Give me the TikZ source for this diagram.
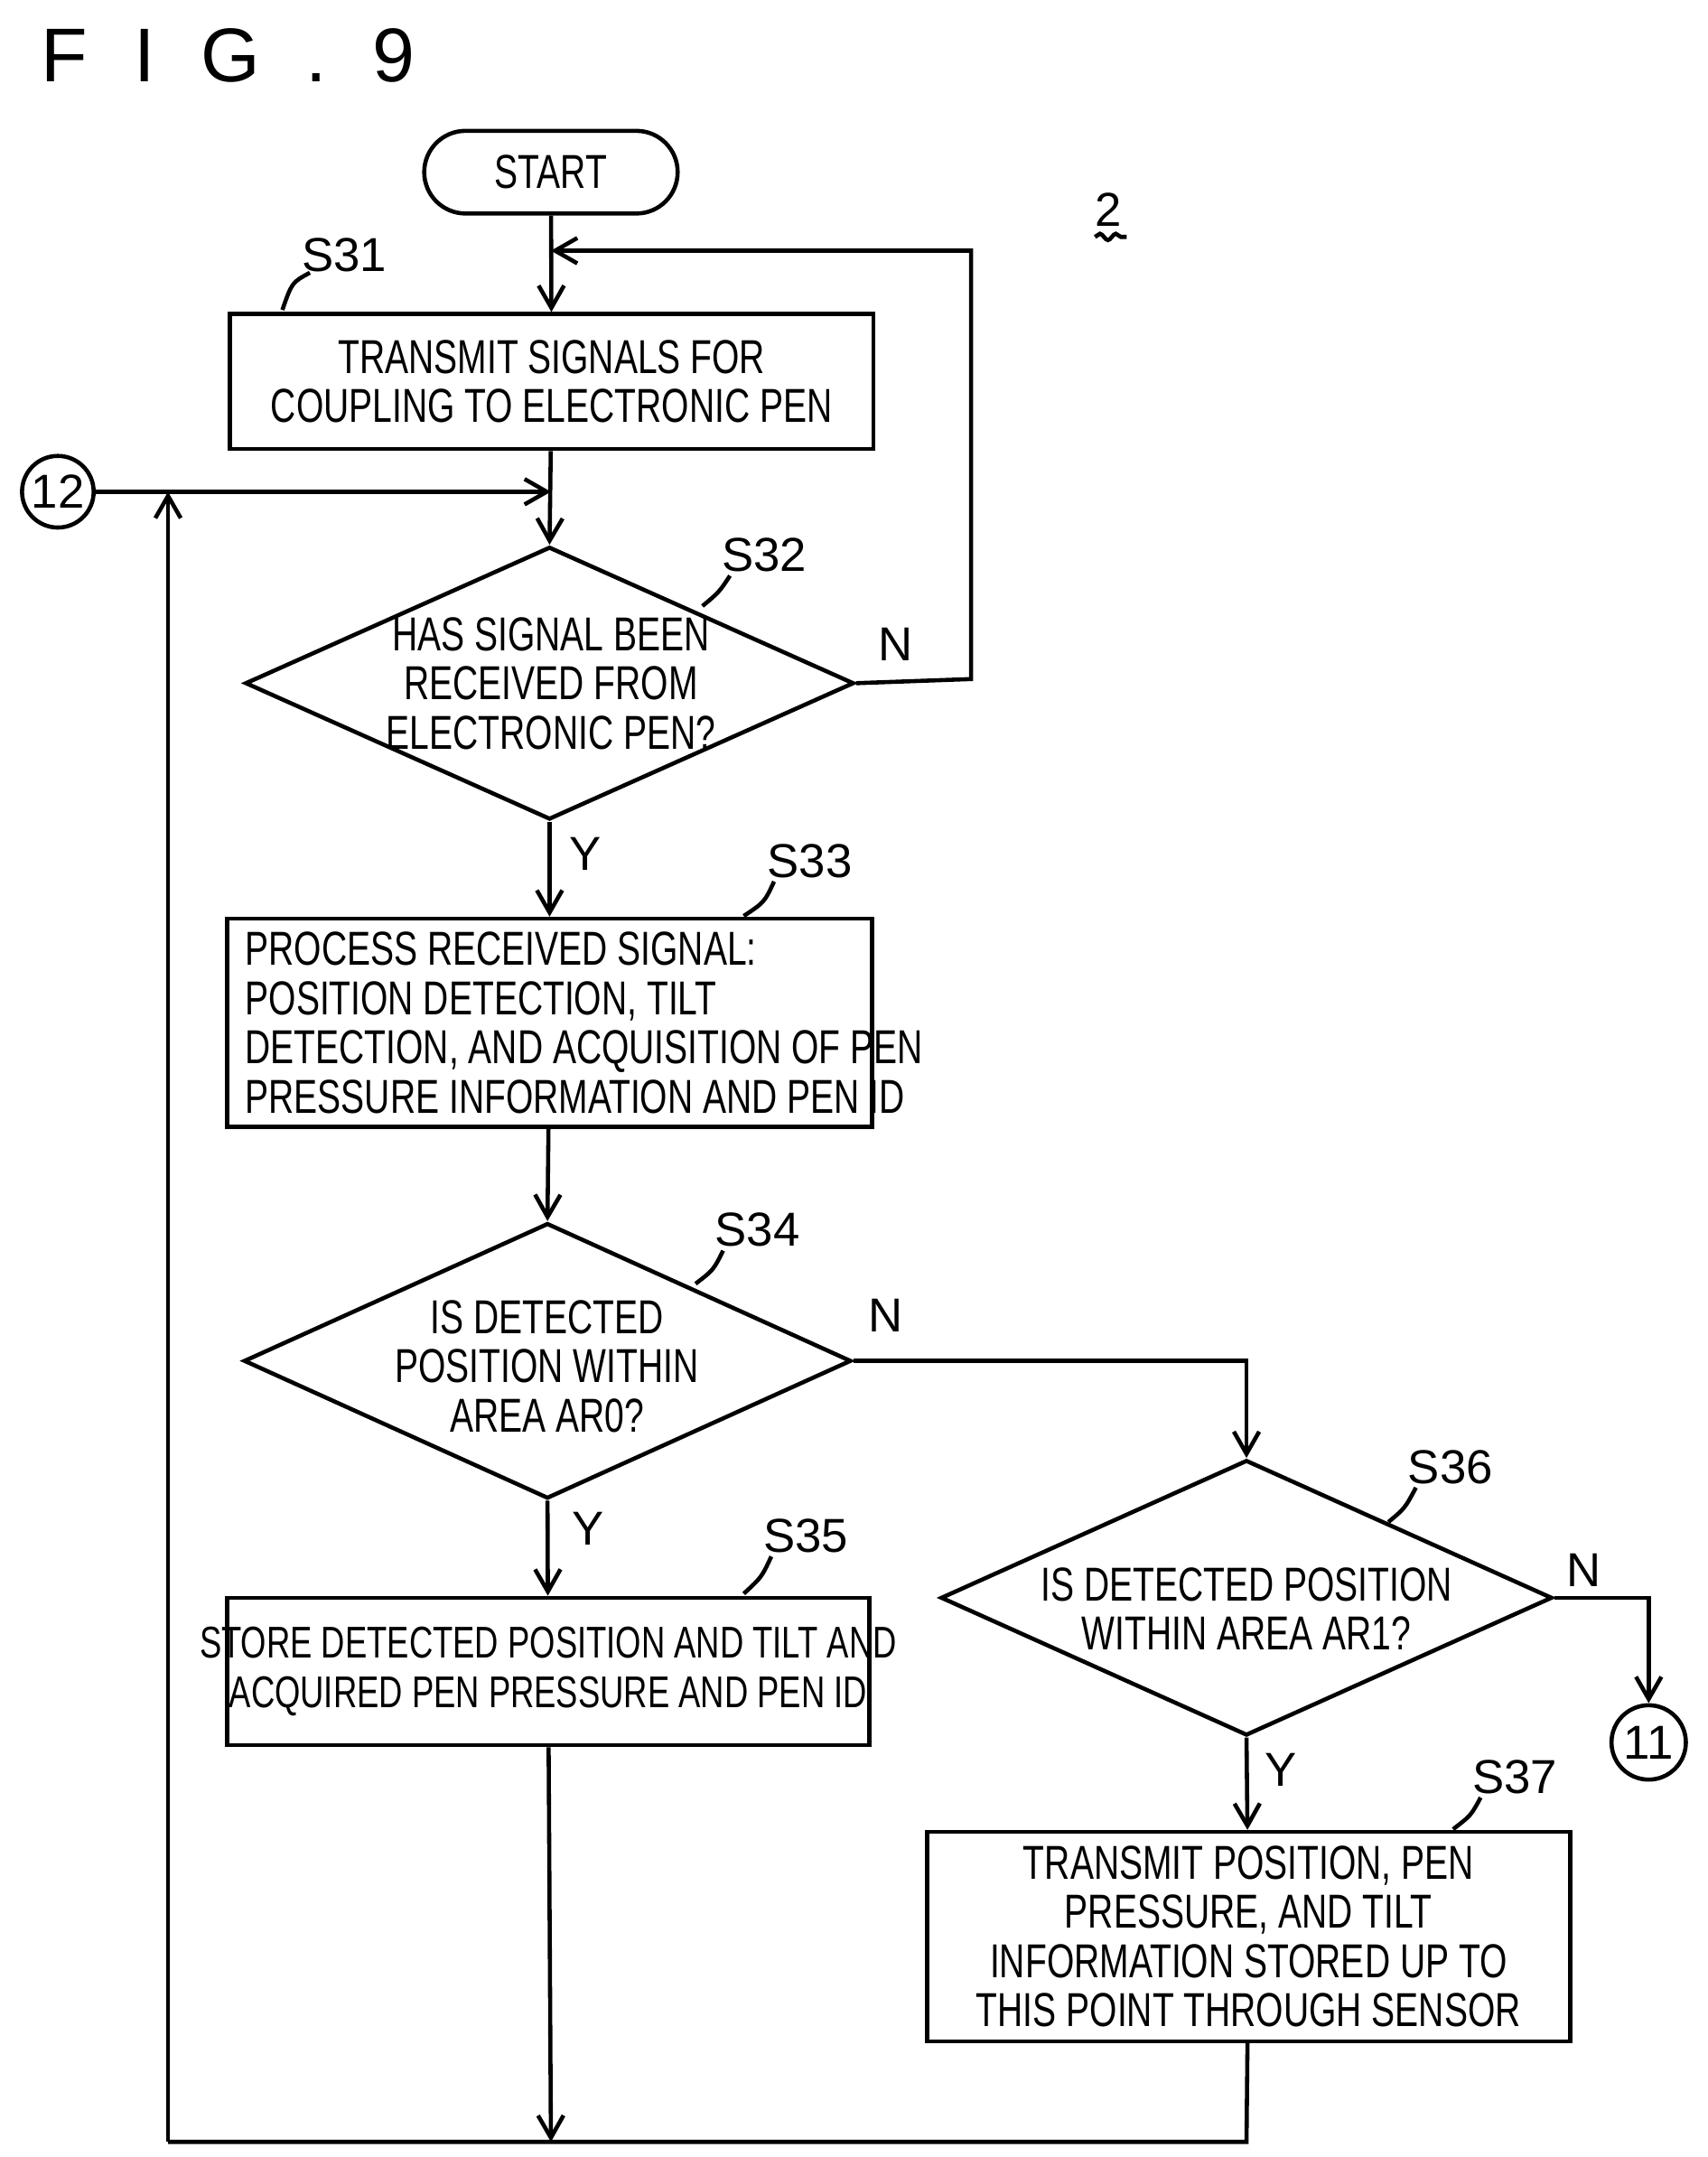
\documentclass[tikz,border=0pt]{standalone}
\usepackage{fontspec}
\setmainfont[FakeStretch=0.74]{Liberation Sans}
\newfontfamily\lab{Liberation Sans}
\usetikzlibrary{shapes.geometric,arrows.meta,decorations.pathmorphing}
\begin{document}
\begin{tikzpicture}[x=0.01525cm,y=-0.01525cm,
  txt/.style={font=\fontsize{15}{15.5}\selectfont,align=center},
  box/.style={draw,line width=1.3pt,inner sep=0pt},
  dia/.style={draw,line width=1.3pt,diamond,inner sep=0pt},
  ln/.style={line width=1.3pt},
  arr/.style={ln,-{Straight Barb[length=7pt,width=8pt]}},
  stp/.style={font=\lab\fontsize{15}{15}\selectfont},
  yn/.style={font=\lab\fontsize{15}{15}\selectfont}]
\useasboundingbox (0,0) rectangle (1240,1566);
\node[font=\lab\fontsize{24}{24}\selectfont,anchor=west] (title) at (22,40) {F\hspace{0.6em}I\hspace{0.6em}G\hspace{0.6em}.\hspace{0.6em}9};
\node[draw,line width=1.3pt,rounded corners=13pt,minimum width=184*0.01525cm,minimum height=60*0.01525cm,txt] (start) at (400,125) {START};
\node[stp] (two) at (805,152) {2};
\draw[ln,decorate,decoration={snake,amplitude=1pt,segment length=5pt}] (795,172)--(818,172);
\node[box,txt,minimum width=467*0.01525cm,minimum height=98*0.01525cm] (s31) at (400.5,277) {TRANSMIT SIGNALS FOR\\COUPLING TO ELECTRONIC PEN};
\node[stp] (l31) at (250,185) {S31};
\draw[ln] (225,198) .. controls (212,205) .. (205,225);
\node[dia,minimum width=442*0.01525cm,minimum height=198*0.01525cm] (s32) at (399,496) {};
\node[txt] at (400,496) {HAS SIGNAL BEEN\\RECEIVED FROM\\ELECTRONIC PEN?};
\node[stp] (l32) at (555,403) {S32};
\draw[ln] (530,418) .. controls (522,430) .. (510,440);
\node[yn] (n32) at (650,468) {N};
\node[yn] (y32) at (425,620) {Y};
\node[box,minimum width=468*0.01525cm,minimum height=151*0.01525cm] (s33) at (399,742.5) {};
\node[txt,align=left,anchor=west] at (170,742.5) {PROCESS RECEIVED SIGNAL:\\POSITION DETECTION, TILT\\DETECTION, AND ACQUISITION OF PEN\\PRESSURE INFORMATION AND PEN ID};
\node[stp] (l33) at (588,625) {S33};
\draw[ln] (562,640) .. controls (555,655) .. (540,665);
\node[dia,minimum width=441*0.01525cm,minimum height=200*0.01525cm] (s34) at (397.5,988) {};
\node[txt] at (397,992) {IS DETECTED\\POSITION WITHIN\\AREA AR0?};
\node[stp] (l34) at (550,893) {S34};
\draw[ln] (525,908) .. controls (518,922) .. (505,932);
\node[yn] (n34) at (643,955) {N};
\node[yn] (y34) at (427,1110) {Y};
\node[box,minimum width=466*0.01525cm,minimum height=107*0.01525cm] (s35) at (398,1213.5) {};
\node[txt,font=\fontsize{14}{15.5}\selectfont] at (398,1213.5) {STORE DETECTED POSITION AND TILT AND\\ACQUIRED PEN PRESSURE AND PEN ID};
\node[stp] (l35) at (585,1115) {S35};
\draw[ln] (560,1130) .. controls (553,1145) .. (540,1157);
\node[dia,minimum width=444*0.01525cm,minimum height=200*0.01525cm] (s36) at (905,1160) {};
\node[txt] at (905,1168) {IS DETECTED POSITION\\WITHIN AREA AR1?};
\node[stp] (l36) at (1053,1065) {S36};
\draw[ln] (1028,1080) .. controls (1020,1095) .. (1008,1105);
\node[yn] (n36) at (1150,1140) {N};
\node[yn] (y36) at (930,1285) {Y};
\node[draw,circle,line width=1.3pt,minimum size=54*0.01525cm,inner sep=0pt,stp] (c11) at (1197,1265) {11};
\node[draw,circle,line width=1.3pt,minimum size=52*0.01525cm,inner sep=0pt,stp] (c12) at (42,357) {12};
\node[box,txt,minimum width=467*0.01525cm,minimum height=152*0.01525cm] (s37) at (906.5,1406) {TRANSMIT POSITION, PEN\\PRESSURE, AND TILT\\INFORMATION STORED UP TO\\THIS POINT THROUGH SENSOR};
\node[stp] (l37) at (1100,1290) {S37};
\draw[ln] (1075,1305) .. controls (1068,1318) .. (1055,1328);
\coordinate (j1) at (400,182);
\coordinate (j2) at (400,357);
\coordinate (b1) at (400,1555);
\coordinate (bl) at (122,1555);
\coordinate (br) at (905,1555);
\coordinate (tl) at (122,357);
\draw[arr] (start) -- (s31);
\draw[arr] (s32.east) -- (705,493) -- (705,182) -- (j1);
\draw[arr] (s31) -- (s32.north);
\draw[arr] (c12) -- (j2);
\draw[arr] (bl) -- (tl);
\draw[arr] (s32.south) -- (s33);
\draw[arr] (s33) -- (s34.north);
\draw[arr] (s34.south) -- (s35);
\draw[arr] (s34.east) -- (905,988) -- (s36.north);
\draw[arr] (s36.east) -- (1197,1160) -- (c11);
\draw[arr] (s36.south) -- (s37);
\draw[arr] (s35) -- (b1);
\draw[ln] (s37) -- (br) -- (bl);
\end{tikzpicture}
\end{document}
